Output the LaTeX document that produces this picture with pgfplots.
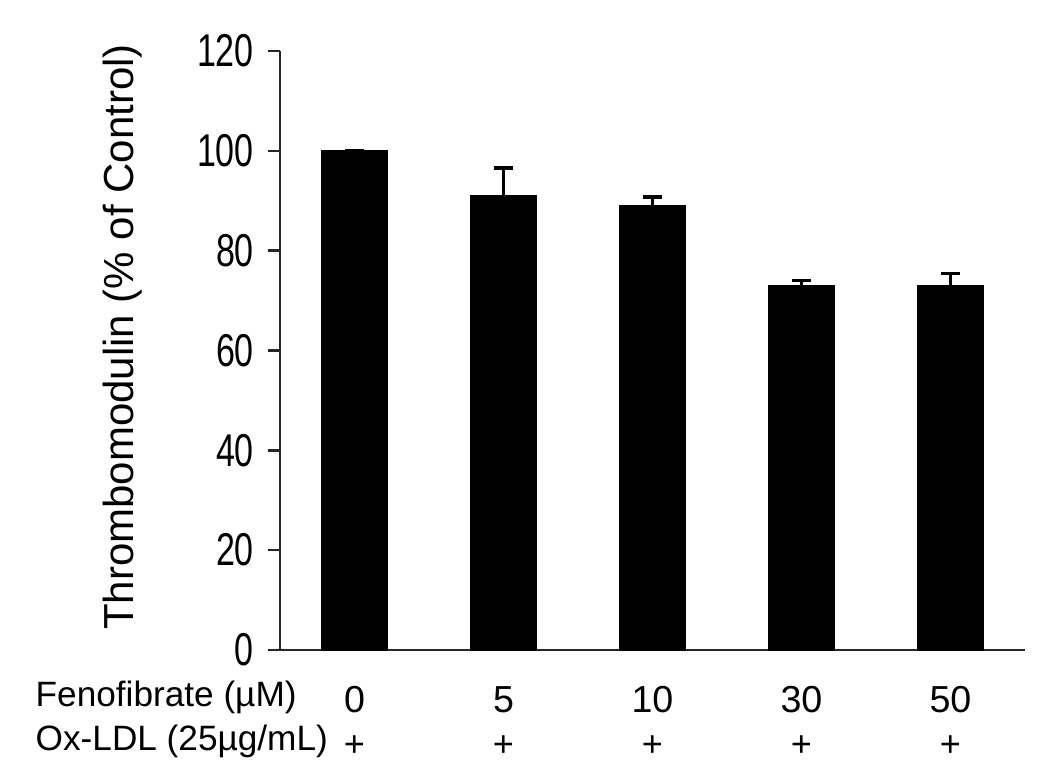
\documentclass[border=0pt]{standalone}
\usepackage{fontspec}
\setmainfont{Liberation Sans}
\newfontfamily\tickfont[FakeStretch=0.74]{Liberation Sans}
\usepackage{pgfplots}
\pgfplotsset{compat=1.18}
\begin{document}
\begin{tikzpicture}
\useasboundingbox (-70pt,-31.75pt) rectangle (192.5pt,162.5pt);
\begin{axis}[
  at={(0,0)}, anchor=south west,
  scale only axis,
  width=186.25pt, height=149.75pt,
  xmin=-0.5, xmax=4.5,
  ymin=0, ymax=120,
  axis x line*=bottom, axis y line*=left,
  axis line style={line width=0.6pt, black!85},
  ytick={0,20,...,120},
  xtick={0,1,2,3,4},
  xticklabels={0,5,10,30,50},
  extra x ticks={-0.5,0.5,1.5,2.5,3.5,4.5},
  extra x tick labels={},
  extra x tick style={major tick length=2.5pt, tick style={line width=0.6pt, black!85}},
  major tick length=3pt,
  tick align=outside,
  x tick style={draw=none},
  y tick style={line width=0.6pt, black!85},
  /pgf/number format/assume math mode=true,
  yticklabel style={font=\tickfont\fontsize{11.5}{12}\selectfont, xshift=0pt},
  xticklabel style={font=\fontsize{9.4}{10}\selectfont, anchor=center, yshift=-9.5pt},
  xticklabel shift=0pt,
  ylabel={Thrombomodulin (\% of Control)},
  ylabel style={font=\fontsize{10.5}{12}\selectfont, at={(axis description cs:-0.211,0.5225)}, anchor=center},
  clip=false,
]
\addplot[ybar, bar width=16.5pt, fill=black, draw=black, bar shift=0pt,
  error bars/.cd, y dir=plus, y explicit,
  error bar style={line width=0.9pt, black},
  error mark options={rotate=90, mark size=2.3pt, line width=0.9pt, black}]
  coordinates {
  (0,100) +- (0,0)
  (1,91) +- (0,5.6)
  (2,89) +- (0,1.8)
  (3,73) +- (0,1.0)
  (4,73) +- (0,2.4)
};
\node[anchor=west, font=\fontsize{8.8}{10}\selectfont] at ([xshift=-64.6pt, yshift=-11.75pt]axis cs:-0.5,0) {Fenofibrate (µM)};
\node[anchor=west, font=\fontsize{8.8}{10}\selectfont] at ([xshift=-64.6pt, yshift=-22.75pt]axis cs:-0.5,0) {Ox-LDL (25µg/mL)};
\pgfplotsinvokeforeach{0,...,4}{
  \node[font=\fontsize{9}{10}\selectfont] at ([yshift=-24pt]axis cs:#1,0) {+};
}
\end{axis}
\end{tikzpicture}
\end{document}
